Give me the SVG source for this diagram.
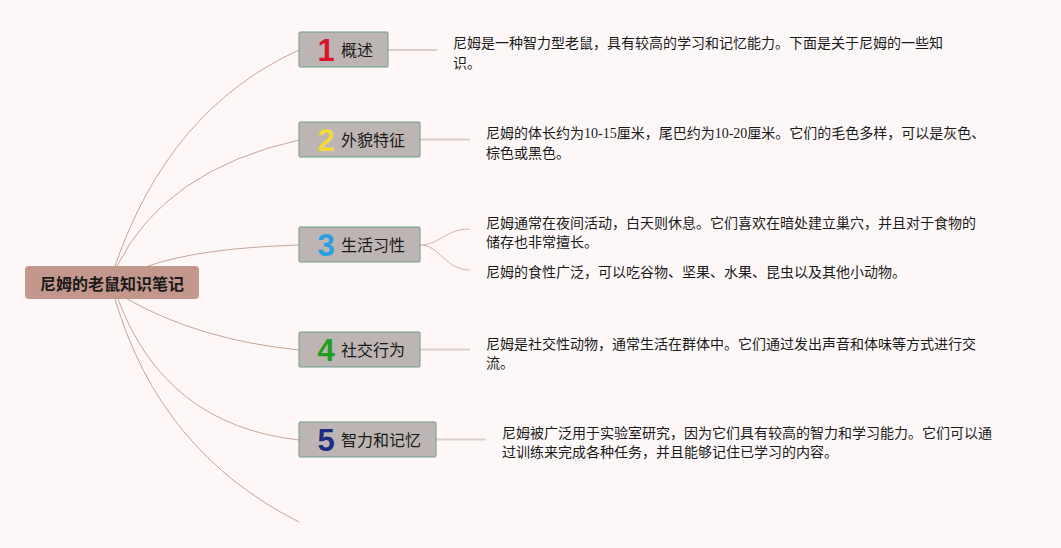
<svg xmlns="http://www.w3.org/2000/svg" width="1061" height="548" viewBox="0 0 1061 548">
<style>
.bg{fill:#fdf8f7}
.root{fill:#c4978d}
.roottxt{font-family:"Noto Sans CJK SC","Liberation Sans",sans-serif;font-size:16px;font-weight:bold;fill:#1a1a1a;text-anchor:middle}
.node{fill:#bdb5b3;stroke:#6f9b8a;stroke-width:1}
.label{font-family:"Noto Sans CJK SC","Liberation Sans",sans-serif;font-size:16px;fill:#1a1a1a}
.num{font-family:"Liberation Sans","Noto Sans",sans-serif;font-size:31px;font-weight:bold;text-anchor:middle}
.desc{font-family:"Liberation Serif","Noto Sans CJK SC",serif;font-size:14px;fill:#1a1a1a}
.curve{fill:none;stroke:#c9a499;stroke-width:1}
.leaf{fill:none;stroke:#dccfcb;stroke-width:2}
.fork{fill:none;stroke:#d6b3aa;stroke-width:1}
</style>
<rect class="bg" x="0" y="0" width="1061" height="548"/>
<g id="connectors">
<path class="curve" d="M115,266 Q169,109 299,50"/>
<path class="curve" d="M117,266 Q165,170 299,140"/>
<path class="curve" d="M148,266 Q200,248 299,245"/>
<path class="curve" d="M127,299 Q200,340 299,350"/>
<path class="curve" d="M118,299 Q165,425 299,440"/>
<path class="curve" d="M115,299 Q160,452 299,522"/>
<path class="leaf" d="M388,50 L437,50"/>
<path class="leaf" d="M420,139.5 L470,139.5"/>
<path class="fork" d="M420,245 C440,245 445,229 470,229"/>
<path class="fork" d="M420,245 C440,245 445,270 470,270"/>
<path class="leaf" d="M420,349.5 L470,349.5"/>
<path class="leaf" d="M436,439.5 L486,439.5"/>
</g>
<g id="root">
<rect class="root" x="25" y="266" width="174" height="33" rx="4"/>
<text class="roottxt" x="112" y="290">尼姆的老鼠知识笔记</text>
</g>
<g id="node1">
<rect class="node" x="299" y="32" width="89" height="35" rx="1"/>
<text class="num" x="326" y="61" fill="#d8152b">1</text>
<text class="label" x="341" y="55.5">概述</text>
</g>
<g id="node2">
<rect class="node" x="299" y="122" width="121" height="35" rx="1"/>
<text class="num" x="326" y="151" fill="#f1d93a">2</text>
<text class="label" x="341" y="145.5">外貌特征</text>
</g>
<g id="node3">
<rect class="node" x="299" y="227" width="121" height="35" rx="1"/>
<text class="num" x="326" y="256" fill="#2a9fe0">3</text>
<text class="label" x="341" y="250.5">生活习性</text>
</g>
<g id="node4">
<rect class="node" x="299" y="332" width="121" height="35" rx="1"/>
<text class="num" x="326" y="361" fill="#1f9e22">4</text>
<text class="label" x="341" y="355.5">社交行为</text>
</g>
<g id="node5">
<rect class="node" x="299" y="422" width="137" height="35" rx="1"/>
<text class="num" x="326" y="451" fill="#1f2a82">5</text>
<text class="label" x="341" y="445.5">智力和记忆</text>
</g>
<g id="text1">
<text class="desc" x="453" y="47.5">尼姆是一种智力型老鼠，具有较高的学习和记忆能力。下面是关于尼姆的一些知</text>
<text class="desc" x="453" y="67.5">识。</text>
</g>
<g id="text2">
<text class="desc" x="486" y="137.5">尼姆的体长约为10-15厘米，尾巴约为10-20厘米。它们的毛色多样，可以是灰色、</text>
<text class="desc" x="486" y="157.5">棕色或黑色。</text>
</g>
<g id="text3a">
<text class="desc" x="486" y="228">尼姆通常在夜间活动，白天则休息。它们喜欢在暗处建立巢穴，并且对于食物的</text>
<text class="desc" x="486" y="247">储存也非常擅长。</text>
</g>
<g id="text3b">
<text class="desc" x="486" y="277">尼姆的食性广泛，可以吃谷物、坚果、水果、昆虫以及其他小动物。</text>
</g>
<g id="text4">
<text class="desc" x="486" y="348.5">尼姆是社交性动物，通常生活在群体中。它们通过发出声音和体味等方式进行交</text>
<text class="desc" x="486" y="367.5">流。</text>
</g>
<g id="text5">
<text class="desc" x="502" y="437.5">尼姆被广泛用于实验室研究，因为它们具有较高的智力和学习能力。它们可以通</text>
<text class="desc" x="502" y="457">过训练来完成各种任务，并且能够记住已学习的内容。</text>
</g>
</svg>
